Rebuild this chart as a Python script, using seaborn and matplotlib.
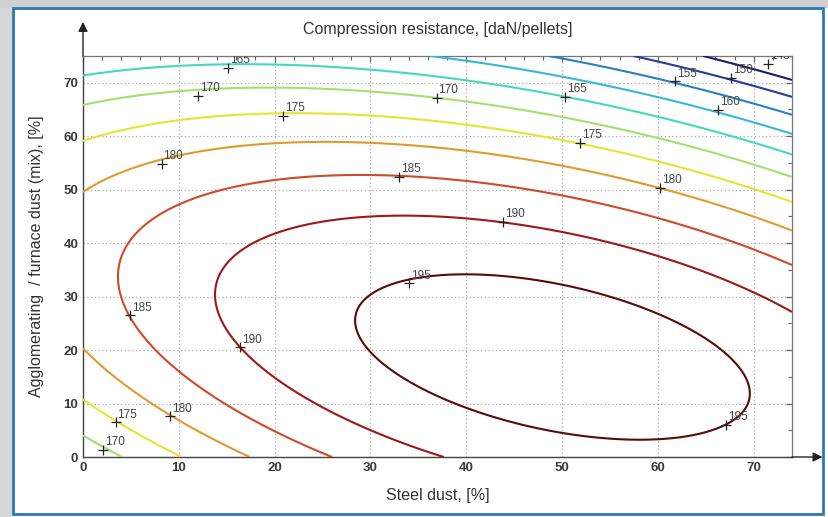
import numpy as np
import matplotlib

matplotlib.use("Agg")
import matplotlib.pyplot as plt  # noqa: E402
from matplotlib.patches import Rectangle  # noqa: E402
from matplotlib.ticker import MultipleLocator  # noqa: E402

import seaborn as sns  # noqa: E402

# Second-order response surface, coefficients
peak_value = 197.6
peak_steel = 49.0
peak_agglo = 18.7
coef_xx = 0.00761
coef_xy = 0.00895
coef_yy = 0.0135

levels = [145, 150, 155, 160, 165, 170, 175, 180, 185, 190, 195]
level_colors = [
    "#1c1c70", "#283c98", "#2a80c0", "#38b8d8", "#44d8c0", "#a4e070",
    "#e6e432", "#e09a30", "#cf4a2a", "#9e1818", "#560c0c",
]

# contour label positions (steel %, agglomerating %) and the shown value
label_steel = [15.1, 12.0, 20.9, 8.2, 33.0, 36.9, 50.3, 51.9, 61.8, 67.6,
               66.3, 60.2, 43.8, 34.0, 4.9, 16.4, 67.1, 9.1, 3.4, 2.1, 71.5]
label_agglo = [72.8, 67.5, 63.8, 54.8, 52.4, 67.2, 67.4, 58.8, 70.3, 70.9,
               64.9, 50.4, 44.0, 32.5, 26.5, 20.5, 6.0, 7.6, 6.5, 1.3, 73.5]
label_values = [165, 170, 175, 180, 185, 170, 165, 175, 155, 150,
                160, 180, 190, 195, 185, 190, 195, 180, 175, 170, 145]

x_limits = (0, 74)
y_limits = (0, 75)


def response(x, y):
    dx = x - peak_steel
    dy = y - peak_agglo
    return peak_value - coef_xx * dx ** 2 - coef_xy * dx * dy - coef_yy * dy ** 2


def main() -> None:
    sns.set_style("white")
    plt.rcParams["font.family"] = ["Liberation Sans", "DejaVu Sans"]

    fig = plt.figure(figsize=(8.29, 5.17), dpi=100)
    ax = fig.add_axes([83 / 829, 1 - 457 / 517, (792 - 83) / 829, (457 - 56) / 517])

    xs = np.linspace(x_limits[0], x_limits[1], 400)
    ys = np.linspace(y_limits[0], y_limits[1], 400)
    gx, gy = np.meshgrid(xs, ys)
    gz = response(gx, gy)

    ax.contour(gx, gy, gz, levels=levels, colors=level_colors, linewidths=1.5, zorder=3)

    # MATLAB-style "+" labels
    ax.plot(label_steel, label_agglo, "+", color="#222222", markersize=7,
            markeredgewidth=0.9, zorder=4)
    for sx, sy, val in zip(label_steel, label_agglo, label_values):
        ax.text(sx + 0.2, sy + 0.3, str(val), fontsize=8.5, color="#444444",
                ha="left", va="bottom", zorder=5, clip_on=True)

    ax.set_xlim(*x_limits)
    ax.set_ylim(*y_limits)
    ax.xaxis.set_major_locator(MultipleLocator(10))
    ax.xaxis.set_minor_locator(MultipleLocator(2))
    ax.yaxis.set_major_locator(MultipleLocator(10))
    ax.yaxis.set_minor_locator(MultipleLocator(5))
    ax.grid(True, which="major", color="#a8a8a8", linestyle=(0, (1, 2)), linewidth=0.9)

    ax.tick_params(which="both", direction="in", top=True, right=True,
                   color="#666666", labelcolor="#3a3a3a")
    ax.tick_params(which="major", length=4, width=0.9, labelsize=9.5)
    ax.tick_params(which="minor", length=3, width=0.8)
    for lab in ax.get_xticklabels() + ax.get_yticklabels():
        lab.set_fontweight("bold")

    for side in ["top", "right"]:
        ax.spines[side].set_color("#777777")
        ax.spines[side].set_linewidth(0.9)
    for side in ["left", "bottom"]:
        ax.spines[side].set_color("#444444")
        ax.spines[side].set_linewidth(1.0)

    # axis arrows
    ax.annotate("", xy=(0, 1.085), xytext=(0, 1.0), xycoords="axes fraction",
                arrowprops=dict(arrowstyle="-|>", color="#222222", lw=1.0,
                                mutation_scale=14, shrinkA=0, shrinkB=0))
    ax.annotate("", xy=(1.043, 0), xytext=(1.0, 0), xycoords="axes fraction",
                arrowprops=dict(arrowstyle="-|>", color="#222222", lw=1.0,
                                mutation_scale=14, shrinkA=0, shrinkB=0))

    ax.set_title("Compression resistance, [daN/pellets]", fontsize=11.5,
                 color="#333333", pad=16)
    ax.set_xlabel("Steel dust, [%]", fontsize=11.5, color="#333333", labelpad=10)
    ax.set_ylabel("Agglomerating  / furnace dust (mix), [%]", fontsize=11.5,
                  color="#333333", labelpad=14)

    # screenshot frame
    fig.patches.append(Rectangle((0, 0), 12 / 829, 1, transform=fig.transFigure,
                                 facecolor="#d8d8d8", edgecolor="none", zorder=0))
    fig.patches.append(Rectangle((0, 1 - 8 / 517), 1, 8 / 517, transform=fig.transFigure,
                                 facecolor="#d0d0d0", edgecolor="none", zorder=0))
    fig.patches.append(Rectangle((13 / 829, 3 / 517), 810 / 829, 506 / 517,
                                 transform=fig.transFigure, fill=False,
                                 edgecolor="#2c78b8", linewidth=2.0, zorder=1))

    fig.savefig("out.png", dpi=100)
    plt.close(fig)


if __name__ == "__main__":
    main()
